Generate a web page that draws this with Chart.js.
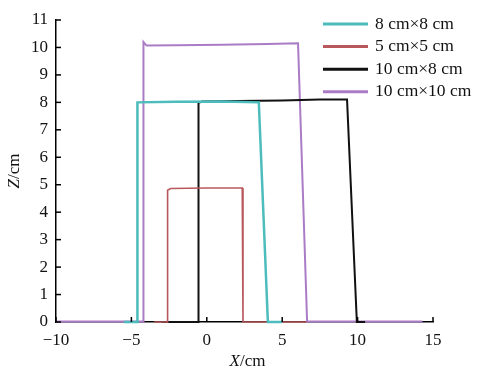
<!DOCTYPE html>
<html>
<head>
  <meta charset="UTF-8">
  <title>Z profile</title>
  <script src="https://cdn.jsdelivr.net/npm/chart.js"></script>
  <style>
    body { margin: 0; background: #fff; }
    #wrap { width: 480px; height: 369px; }
  </style>
</head>
<body>
  <div id="wrap"><canvas id="c"></canvas></div>
  <script>
    // values (X in cm, Z in cm)
    const labels = ['8 cm×8 cm', '5 cm×5 cm', '10 cm×8 cm', '10 cm×10 cm'];
    const colors = ['#4dbcbc', '#b9585c', '#111111', '#ab7cc6'];
    const widths = [2.5, 1.6, 2, 2];

    const x8x8 = [-5.5, -4.6, -4.6, -2, 1, 3.45, 4.05, 5];
    const z8x8 = [0, 0, 8.0, 8.02, 8.03, 8.0, 0, 0];

    const x5x5 = [-3.5, -2.6, -2.6, -2.4, 0, 2.35, 2.4, 6.6];
    const z5x5 = [0, 0, 4.8, 4.86, 4.88, 4.88, 0, 0];

    const x10x8 = [-3, -0.55, -0.55, -0.3, 2, 5, 7.5, 9.3, 9.95, 10.5];
    const z10x8 = [0, 0, 7.98, 8.03, 8.05, 8.07, 8.1, 8.1, 0, 0];

    const x10x10 = [-10, -4.2, -4.2, -4.0, -2, 1, 4, 6.05, 6.65, 14.3];
    const z10x10 = [0.02, 0.02, 10.2, 10.07, 10.08, 10.1, 10.13, 10.15, 0.02, 0.02];

    const xs = [x8x8, x5x5, x10x8, x10x10];
    const zs = [z8x8, z5x5, z10x8, z10x10];

    const serif = "'Liberation Serif', 'DejaVu Serif', serif";

    const datasets = labels.map((l, i) => ({
      label: l,
      data: xs[i].map((x, j) => ({ x: x, y: zs[i][j] })),
      borderColor: colors[i],
      borderWidth: widths[i],
      showLine: true,
      pointRadius: 0,
      tension: 0,
      clip: false
    }));

    const extras = {
      id: 'extras',
      afterDraw(chart) {
        const ctx = chart.ctx;
        const a = chart.chartArea;
        const sx = chart.scales.x, sy = chart.scales.y;
        ctx.save();
        // inward ticks
        ctx.strokeStyle = '#000';
        ctx.lineWidth = 1.5;
        sx.ticks.forEach(t => {
          const p = sx.getPixelForValue(t.value);
          ctx.beginPath(); ctx.moveTo(p, a.bottom); ctx.lineTo(p, a.bottom - 5); ctx.stroke();
        });
        sy.ticks.forEach(t => {
          const p = sy.getPixelForValue(t.value);
          ctx.beginPath(); ctx.moveTo(a.left, p); ctx.lineTo(a.left + 5, p); ctx.stroke();
        });
        // legend
        ctx.font = '17.5px ' + serif;
        ctx.textBaseline = 'middle';
        ctx.textAlign = 'left';
        labels.forEach((l, i) => {
          const y = a.top + 4 + i * 22.6;
          ctx.strokeStyle = colors[i];
          ctx.lineWidth = 3;
          ctx.beginPath(); ctx.moveTo(a.right - 110, y); ctx.lineTo(a.right - 65, y); ctx.stroke();
          ctx.fillStyle = '#111';
          ctx.fillText(l, a.right - 58, y);
        });
        // axis titles with italic letter
        function title(letter, rest, cx, cy, rot) {
          ctx.save();
          ctx.translate(cx, cy);
          ctx.rotate(rot);
          ctx.font = 'italic 17px ' + serif;
          const w1 = ctx.measureText(letter).width;
          ctx.font = '17px ' + serif;
          const w2 = ctx.measureText(rest).width;
          const x0 = -(w1 + w2) / 2;
          ctx.fillStyle = '#111';
          ctx.textAlign = 'left';
          ctx.font = 'italic 17px ' + serif;
          ctx.fillText(letter, x0, 0);
          ctx.font = '17px ' + serif;
          ctx.fillText(rest, x0 + w1, 0);
          ctx.restore();
        }
        title('X', '/cm', (a.left + a.right) / 2 + 3, 362, 0);
        title('Z', '/cm', 15, (a.top + a.bottom) / 2, -Math.PI / 2);
        ctx.restore();
      }
    };

    new Chart(document.getElementById('c'), {
      type: 'scatter',
      data: { datasets: datasets },
      options: {
        responsive: true,
        maintainAspectRatio: false,
        animation: false,
        layout: { padding: { top: 20, right: 47, left: 0, bottom: 0 } },
        plugins: { legend: { display: false }, tooltip: { enabled: false } },
        scales: {
          x: {
            type: 'linear',
            min: -10, max: 15,
            afterFit(s) { s.height = 47; },
            grid: { display: false, drawTicks: false },
            border: { display: true, color: '#000', width: 1.5 },
            ticks: {
              stepSize: 5, padding: 8, color: '#111',
              font: { family: serif, size: 17 },
              callback: v => String(v).replace('-', '\u2212')
            }
          },
          y: {
            min: 0, max: 11,
            afterFit(s) { s.width = 56; },
            grid: { display: false, drawTicks: false },
            border: { display: true, color: '#000', width: 1.5 },
            ticks: {
              stepSize: 1, padding: 8, color: '#111',
              font: { family: serif, size: 17 }
            }
          }
        }
      },
      plugins: [extras]
    });
  </script>
</body>
</html>
